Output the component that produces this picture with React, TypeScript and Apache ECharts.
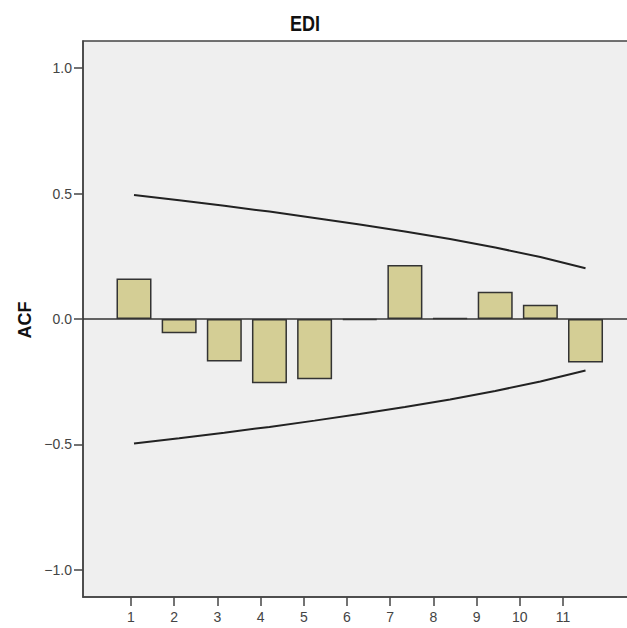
import React, { useEffect, useRef } from "react";
import * as echarts from "echarts";

const lags = [1, 2, 3, 4, 5, 6, 7, 8, 9, 10, 11];
const acfValues = [0.161, -0.057, -0.169, -0.256, -0.24, -0.004, 0.215, 0.003, 0.109, 0.057, -0.173];
const upperLimit = [0.494, 0.473, 0.451, 0.428, 0.403, 0.377, 0.349, 0.319, 0.285, 0.247, 0.202];
const lowerLimit = [-0.496, -0.475, -0.453, -0.43, -0.405, -0.379, -0.351, -0.321, -0.287, -0.249, -0.205];
const yTickValues = [-1, -0.5, 0, 0.5, 1];
const chartTitle = "EDI";
const yAxisTitle = "ACF";

export default function App() {
  const ref = useRef<HTMLDivElement>(null);
  useEffect(() => {
    if (!ref.current) return;
    const chart = echarts.init(ref.current, undefined, { renderer: "svg" });
    const fontFamily = "Arial, 'Liberation Sans', sans-serif";
    chart.setOption({
      animation: false,
      backgroundColor: "#ffffff",
      grid: {
        left: 83,
        top: 41,
        right: 5,
        bottom: 31,
        show: true,
        backgroundColor: "#efefef",
        borderColor: "#444",
        borderWidth: 1.5,
      },
      graphic: [
        {
          type: "text",
          x: 305,
          y: 23,
          scaleY: 1.2,
          style: {
            text: chartTitle,
            fontSize: 18,
            fontWeight: "bold",
            fontFamily,
            fill: "#111",
            textAlign: "center",
            textVerticalAlign: "middle",
          },
        },
        {
          type: "text",
          x: 25,
          y: 320,
          rotation: Math.PI / 2,
          style: {
            text: yAxisTitle,
            fontSize: 18,
            fontWeight: "bold",
            fontFamily,
            fill: "#111",
            textAlign: "center",
            textVerticalAlign: "middle",
          },
        },
      ],
      xAxis: [
        {
          type: "value",
          min: -0.1296,
          max: 12.096,
          show: false,
          axisLine: { onZero: false },
          splitLine: { show: false },
        },
        {
          type: "value",
          min: -0.111,
          max: 12.667,
          position: "bottom",
          axisLine: { show: true, onZero: false, lineStyle: { color: "#444", width: 1.5 } },
          axisTick: {
            show: true,
            length: 9,
            customValues: lags,
            lineStyle: { color: "#444", width: 1.5 },
          },
          axisLabel: {
            customValues: lags,
            margin: 13,
            fontSize: 14,
            color: "#444",
            fontFamily,
            formatter: (v: number) => String(v),
          },
          splitLine: { show: false },
        },
      ],
      yAxis: {
        type: "value",
        min: -1.108,
        max: 1.108,
        axisLine: { show: true, onZero: false, lineStyle: { color: "#444", width: 1.5 } },
        axisTick: {
          show: true,
          length: 9,
          customValues: yTickValues,
          lineStyle: { color: "#444", width: 1.5 },
        },
        axisLabel: {
          customValues: yTickValues,
          margin: 11,
          fontSize: 14,
          color: "#444",
          fontFamily,
          formatter: (v: number) => v.toFixed(1).replace("-", "\u2212"),
        },
        splitLine: { show: false },
      },
      series: [
        {
          type: "bar",
          xAxisIndex: 0,
          barWidth: 35,
          data: lags.map((k, i) => [k, acfValues[i]]),
          itemStyle: { color: "#d4ce95", borderColor: "#333", borderWidth: 1.5 },
          markLine: {
            silent: true,
            symbol: "none",
            label: { show: false },
            lineStyle: { color: "#333", width: 1.5, type: "solid" },
            data: [{ yAxis: 0 }],
          },
          z: 2,
        },
        {
          type: "line",
          xAxisIndex: 0,
          data: lags.map((k, i) => [k, upperLimit[i]]),
          symbol: "none",
          lineStyle: { color: "#222", width: 2 },
          z: 3,
        },
        {
          type: "line",
          xAxisIndex: 0,
          data: lags.map((k, i) => [k, lowerLimit[i]]),
          symbol: "none",
          lineStyle: { color: "#222", width: 2 },
          z: 3,
        },
      ],
    });
    return () => chart.dispose();
  }, []);
  return (
    <div
      style={{
        position: "fixed",
        left: 0,
        top: 0,
        width: 627,
        height: 628,
        overflow: "hidden",
        background: "#fff",
      }}
    >
      <div ref={ref} style={{ width: 640, height: 628 }} />
    </div>
  );
}
